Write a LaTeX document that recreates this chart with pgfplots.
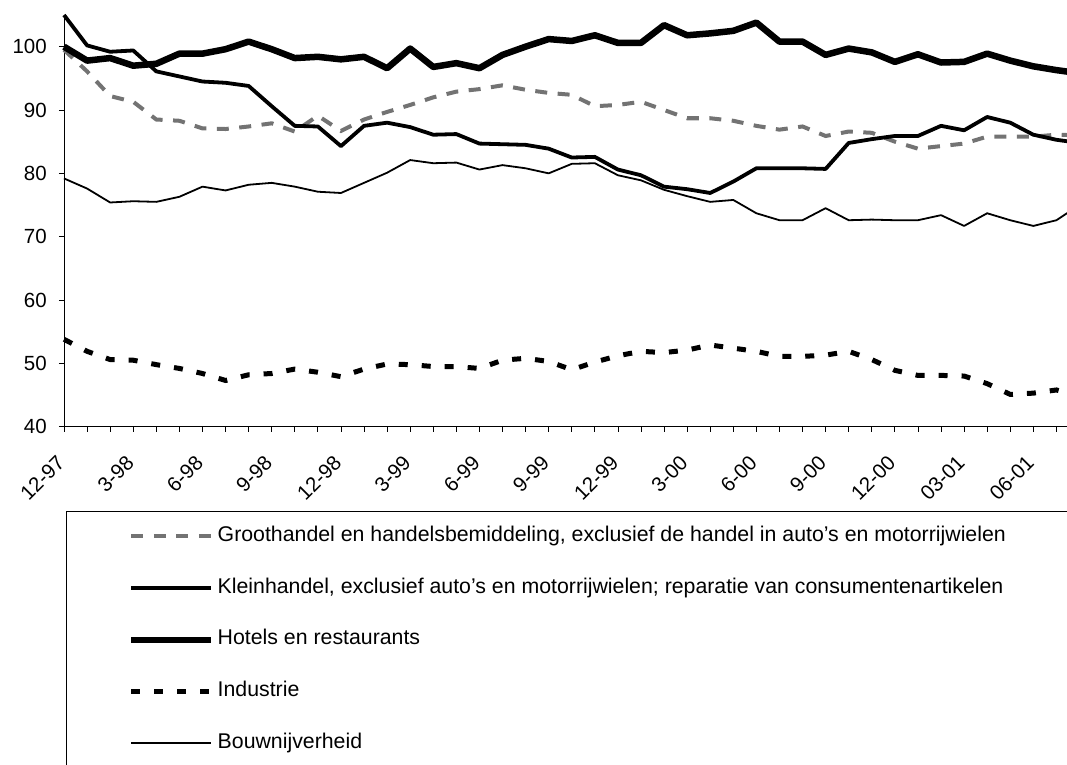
\documentclass[border=0pt]{standalone}
\usepackage{fontspec}
\setmainfont{Liberation Sans}
\usepackage{pgfplots}
\pgfplotsset{compat=1.18}
\usepackage{pgfplotstable}

% i: months since 12-97
\pgfplotstableread{
i  G     K     H     I     B
0  99.5  105.0 100.0 53.8  79.2
1  96.1  100.2 97.8  51.9  77.6
2  92.2  99.2  98.2  50.6  75.4
3  91.3  99.4  97.0  50.5  75.6
4  88.5  96.1  97.3  49.8  75.5
5  88.3  95.3  98.9  49.2  76.3
6  87.1  94.5  98.9  48.4  77.9
7  87.0  94.3  99.6  47.3  77.3
8  87.4  93.8  100.8 48.2  78.2
9  87.9  90.6  99.6  48.4  78.5
10 86.6  87.5  98.2  49.1  77.9
11 89.1  87.4  98.4  48.6  77.1
12 86.7  84.3  98.0  47.9  76.9
13 88.5  87.5  98.4  49.1  78.5
14 89.7  88.0  96.6  49.9  80.1
15 90.8  87.3  99.7  49.8  82.1
16 92.0  86.1  96.8  49.5  81.6
17 92.9  86.2  97.4  49.5  81.7
18 93.3  84.7  96.6  49.2  80.6
19 93.9  84.6  98.7  50.5  81.3
20 93.2  84.5  100.0 50.8  80.8
21 92.7  83.9  101.2 50.3  80.0
22 92.4  82.5  100.9 49.0  81.5
23 90.6  82.6  101.8 50.2  81.6
24 90.8  80.6  100.6 51.2  79.7
25 91.3  79.7  100.6 51.9  78.9
26 90.0  77.9  103.4 51.7  77.4
27 88.7  77.5  101.8 52.1  76.4
28 88.7  76.9  102.1 52.9  75.5
29 88.3  78.7  102.5 52.4  75.8
30 87.5  80.8  103.8 51.9  73.7
31 86.9  80.8  100.8 51.1  72.6
32 87.4  80.8  100.8 51.1  72.6
33 85.9  80.7  98.7  51.3  74.5
34 86.6  84.8  99.7  51.9  72.6
35 86.4  85.4  99.1  50.6  72.7
36 85.0  85.9  97.6  48.9  72.6
37 83.9  85.9  98.8  48.1  72.6
38 84.3  87.5  97.5  48.1  73.4
39 84.7  86.8  97.6  48.0  71.7
40 85.8  88.9  98.9  46.8  73.7
41 85.8  88.0  97.8  45.1  72.6
42 85.8  86.1  96.9  45.3  71.7
43 86.1  85.3  96.3  45.8  72.6
44 86.0  84.8  95.8  44.8  75.0
}\datatable

\begin{document}
\begin{tikzpicture}
\begin{axis}[
  name=ax,
  scale only axis,
  width=1003pt, height=411.7pt,
  xmin=0, xmax=43.46, ymin=40, ymax=105,
  clip=false,
  axis x line*=bottom, axis y line*=left,
  x axis line style={line width=1.2pt},
  y axis line style={line width=0.8pt},
  xtick={0,3,...,42},
  xticklabels={12-97,3-98,6-98,9-98,12-98,3-99,6-99,9-99,12-99,3-00,6-00,9-00,12-00,03-01,06-01},
  minor xtick={0,...,43},
  ytick={40,50,...,100},
  tick align=outside,
  major tick length=5pt, minor tick length=5pt,
  every tick/.style={black, line width=0.8pt},
  xticklabel style={xshift=-3pt, yshift=-28pt, rotate=45, anchor=east, inner sep=0pt, font=\fontsize{20.5}{22}\selectfont},
  yticklabel style={anchor=east, inner sep=0pt, font=\fontsize{20.5}{22}\selectfont, xshift=-12pt, /pgf/number format/assume math mode=true},
  legend cell align=left,
  legend image code/.code={\draw[#1] (0pt,0pt) -- (80pt,0pt);},
  legend style={at={(rel axis cs:0,0)}, anchor=north west, xshift=64pt, yshift=-100.5pt,
    draw=none, fill=none, inner sep=0pt, row sep=33.7pt,
    font=\fontsize{21.3}{24}\selectfont,
    nodes={inner sep=0pt, text height=14pt, text depth=4pt},
    /tikz/every odd column/.append style={column sep=3pt}},
]
\addplot[black!55, line width=4pt, dash pattern=on 12pt off 10.5pt] table[x=i, y=G] {\datatable};
\addlegendentry{Groothandel en handelsbemiddeling, exclusief de handel in auto’s en motorrijwielen}
\addplot[black, line width=3.8pt, line join=round] table[x=i, y=K] {\datatable};
\addlegendentry{Kleinhandel, exclusief auto’s en motorrijwielen; reparatie van consumentenartikelen}
\addplot[black, line width=6.5pt, line join=round] table[x=i, y=H] {\datatable};
\addlegendentry{Hotels en restaurants}
\addplot[black, line width=5pt, dash pattern=on 9pt off 14pt] table[x=i, y=I] {\datatable};
\addlegendentry{Industrie}
\addplot[black, line width=1.8pt, line join=round] table[x=i, y=B] {\datatable};
\addlegendentry{Bouwnijverheid}
\end{axis}
\draw[line width=0.8pt] (2pt,-400pt) -- (2pt,-84.3pt) -- (1100pt,-84.3pt);
\pgfresetboundingbox
\path (-64pt,-337.3pt) rectangle (1003pt,426.7pt);
\end{tikzpicture}
\end{document}
